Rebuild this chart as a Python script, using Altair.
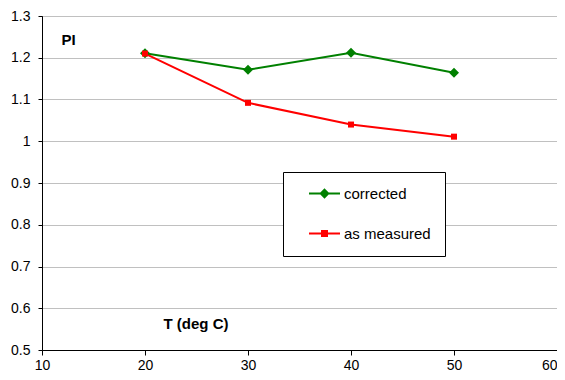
import altair as alt
import pandas as pd

temps = [20, 30, 40, 50]
corrected = [1.211, 1.171, 1.212, 1.164]
as_measured = [1.210, 1.092, 1.040, 1.011]
series_names = ["corrected", "as measured"]
series_colors = ["#008000", "#FF0000"]
series_shapes = ["diamond", "square"]
series_sizes = [100, 36]
legend_paths = [
    "M-3.1,0H3.1M0,-0.75L0.75,0L0,0.75L-0.75,0Z",
    "M-3.1,0H3.1M-0.5,-0.5H0.5V0.5H-0.5Z",
]
x_ticks = [10, 20, 30, 40, 50, 60]
y_ticks = [0.5, 0.6, 0.7, 0.8, 0.9, 1.0, 1.1, 1.2, 1.3]

rows = []
for name, vals in zip(series_names, [corrected, as_measured]):
    for t, v in zip(temps, vals):
        rows.append({"T": t, "PI": v, "series": name})
df = pd.DataFrame(rows)

FONT = "Liberation Sans"

x_enc = alt.X("T:Q",
              scale=alt.Scale(domain=[10, 60], nice=False, zero=False),
              axis=alt.Axis(values=x_ticks, grid=False, title="T (deg C)",
                            titleX=121, titleY=-27, titleAlign="left",
                            titleBaseline="middle", titleAngle=0,
                            labelPadding=3, tickSize=5, labelFlush=False,
                            labelAlign={"condition": {"test": "datum.value === 60", "value": "right"},
                                        "value": "center"}))
y_enc = alt.Y("PI:Q",
              scale=alt.Scale(domain=[0.5, 1.3], nice=False, zero=False),
              axis=alt.Axis(values=y_ticks, grid=True, title="PI", format="~g",
                            titleX=19, titleY=23, titleAlign="left",
                            titleBaseline="middle", titleAngle=0,
                            labelPadding=8, tickSize=4, labelFlush=False))

color_scale = alt.Scale(domain=series_names, range=series_colors)

lines = alt.Chart(df).mark_line(strokeWidth=2).encode(
    x=x_enc, y=y_enc,
    color=alt.Color("series:N", scale=color_scale, legend=None),
    order=alt.Order("T:Q"),
)

points = alt.Chart(df).mark_point(filled=True, opacity=1).encode(
    x="T:Q", y="PI:Q",
    color=alt.Color("series:N", scale=color_scale, legend=None),
    shape=alt.Shape("series:N", scale=alt.Scale(domain=series_names, range=series_shapes), legend=None),
    size=alt.Size("series:N", scale=alt.Scale(domain=series_names, range=series_sizes), legend=None),
)

legend = alt.Legend(
    title=None, orient="none", legendX=241, legendY=156,
    strokeColor="black", fillColor="white", padding=14,
    rowPadding=24, symbolOffset=20, labelOffset=12, symbolSize=100,
    symbolStrokeWidth=2, symbolOpacity=1,
    labelFont=FONT, labelFontSize=15, labelColor="black",
)

legend_layer = alt.Chart(df).transform_filter(alt.datum.T < 0).mark_point(
    opacity=1, strokeWidth=2, size=100
).encode(
    x="T:Q", y="PI:Q",
    fill=alt.Fill("series:N", scale=alt.Scale(domain=series_names, range=series_colors), legend=legend),
    stroke=alt.Stroke("series:N", scale=alt.Scale(domain=series_names, range=series_colors), legend=legend),
    shape=alt.Shape("series:N", scale=alt.Scale(domain=series_names, range=legend_paths), legend=legend),
)

chart = alt.layer(lines, points, legend_layer).resolve_scale(
    shape="independent", fill="independent", stroke="independent"
).properties(
    width=515, height=334, background="white",
    autosize=alt.AutoSizeParams(type="none"),
    padding={"left": 34, "top": 8, "right": 0, "bottom": 22},
).configure_view(
    stroke="black", strokeWidth=1
).configure_axis(
    domainColor="black", domainWidth=1, tickColor="black", tickWidth=1,
    labelFont=FONT, labelFontSize=14, labelColor="black",
    titleFont=FONT, titleFontSize=15, titleFontWeight="bold", titleColor="black",
    gridColor="#c0c0c0", gridWidth=1,
)

chart.save("out.html", embed_options={"renderer": "svg", "actions": False})
